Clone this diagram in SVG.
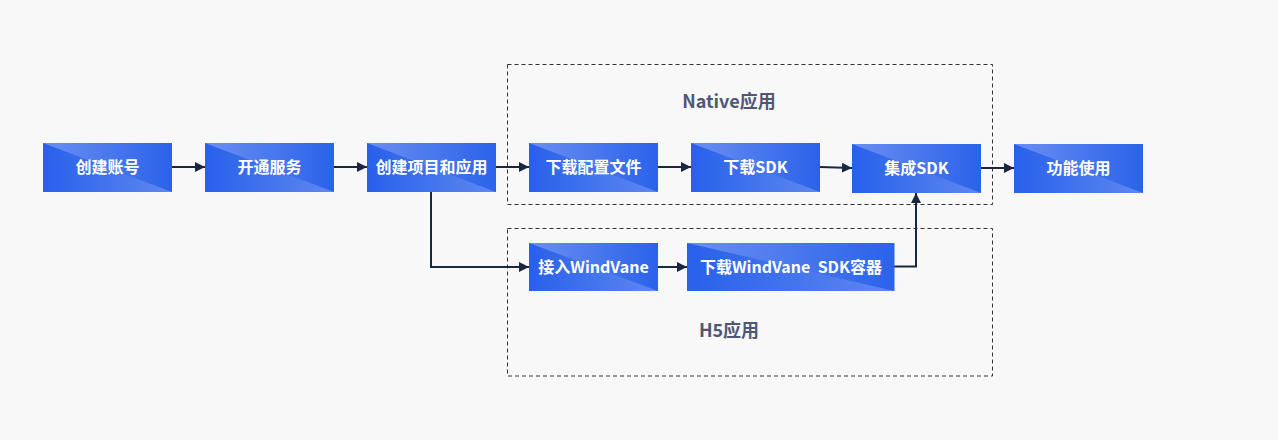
<svg xmlns="http://www.w3.org/2000/svg" width="1278" height="440" viewBox="0 0 1278 440">
  <style>
    .box { fill: url(#boxfill); }
    .lbl { font-family: "Noto Sans CJK SC", "Noto Sans", sans-serif; font-weight: 700; font-size: 16px; fill: #ffffff; text-anchor: middle; dominant-baseline: central; }
    .grp { fill: none; stroke: #333333; stroke-width: 1; stroke-dasharray: 4 3; }
    .glbl { font-family: "Noto Sans CJK SC", "Noto Sans", sans-serif; font-weight: 700; font-size: 18px; fill: #4f5775; text-anchor: middle; dominant-baseline: central; }
    .conn { fill: none; stroke: #1b2640; stroke-width: 2; marker-end: url(#arr); }
  </style>
  <defs>
    <linearGradient id="gA" x1="0" y1="0" x2="1" y2="0">
      <stop offset="0" stop-color="#2760ea"/>
      <stop offset="1" stop-color="#5f88f0"/>
    </linearGradient>
    <linearGradient id="gB" x1="0" y1="0" x2="1" y2="0">
      <stop offset="0" stop-color="#6b8ff1"/>
      <stop offset="1" stop-color="#2a62ea"/>
    </linearGradient>
    <pattern id="boxfill" patternUnits="objectBoundingBox" patternContentUnits="objectBoundingBox" x="0" y="0" width="1" height="1">
      <rect x="0" y="0" width="1" height="1" fill="url(#gA)"/>
      <polygon points="0,0 1,0 1,1" fill="url(#gB)"/>
    </pattern>
    <marker id="arr" viewBox="0 0 10 10" refX="10" refY="5" markerWidth="10" markerHeight="10" markerUnits="userSpaceOnUse" orient="auto">
      <path d="M0,0 L10,5 L0,10 Z" fill="#1b2640"/>
    </marker>
  </defs>
  <rect x="0" y="0" width="1278" height="440" fill="#f8f8f8"/>

  <g id="group-native">
    <rect class="grp" x="507.5" y="64.5" width="485" height="140"/>
    <text class="glbl" x="729" y="100">Native应用</text>
  </g>
  <g id="group-h5">
    <rect class="grp" x="507.5" y="228.5" width="485" height="147.5"/>
    <text class="glbl" x="729" y="329">H5应用</text>
  </g>

  <g id="connectors">
    <path class="conn" d="M172,167 L205,167"/>
    <path class="conn" d="M334,167 L367,167"/>
    <path class="conn" d="M496,167 L529,167"/>
    <path class="conn" d="M658,167 L691,167"/>
    <path class="conn" d="M820,167 L852,168"/>
    <path class="conn" d="M981,168 L1014,168"/>
    <path class="conn" d="M431,192 L431,267 L529,267"/>
    <path class="conn" d="M658,267 L687,267"/>
    <path class="conn" d="M894,266.5 L916,266.5 L916,193"/>
  </g>

  <g id="n-account">
    <rect class="box" x="43" y="143" width="129" height="49"/>
    <text class="lbl" x="107.5" y="165.5">创建账号</text>
  </g>
  <g id="n-service">
    <rect class="box" x="205" y="143" width="129" height="49"/>
    <text class="lbl" x="269.5" y="165.5">开通服务</text>
  </g>
  <g id="n-project">
    <rect class="box" x="367" y="143" width="129" height="49"/>
    <text class="lbl" x="431.5" y="165.5">创建项目和应用</text>
  </g>
  <g id="n-config">
    <rect class="box" x="529" y="143" width="129" height="49"/>
    <text class="lbl" x="593.5" y="165.5">下载配置文件</text>
  </g>
  <g id="n-sdk">
    <rect class="box" x="691" y="143" width="129" height="49"/>
    <text class="lbl" x="755.5" y="165.5">下载SDK</text>
  </g>
  <g id="n-integrate">
    <rect class="box" x="852" y="144" width="129" height="49"/>
    <text class="lbl" x="916.5" y="166.5">集成SDK</text>
  </g>
  <g id="n-use">
    <rect class="box" x="1014" y="144" width="129" height="49"/>
    <text class="lbl" x="1078.5" y="166.5">功能使用</text>
  </g>
  <g id="n-windvane">
    <rect class="box" x="529" y="243" width="129" height="48"/>
    <text class="lbl" x="593.5" y="265.5">接入WindVane</text>
  </g>
  <g id="n-windvane-sdk">
    <rect class="box" x="687" y="243" width="207.5" height="48"/>
    <text class="lbl" x="791" y="265.5" xml:space="preserve">下载WindVane  SDK容器</text>
  </g>
</svg>
